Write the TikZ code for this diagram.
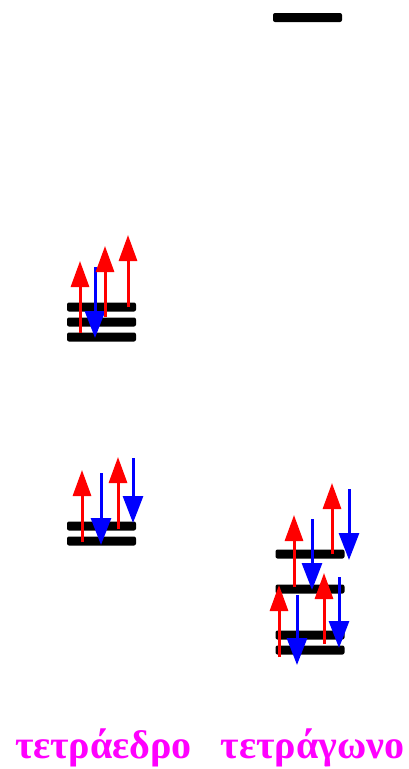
\documentclass[tikz,border=0pt]{standalone}
\usepackage{fontspec}
\setmainfont{Liberation Serif}
\usetikzlibrary{arrows.meta}
\definecolor{mag}{HTML}{FF00FF}
\tikzset{
  level/.style={draw=none,fill=black,rounded corners=2pt,minimum width=69pt,minimum height=9pt,inner sep=0pt},
  spinup/.style={red,line width=3pt,-{Triangle[length=26pt,width=18pt]}},
  spindn/.style={blue,line width=3pt,-{Triangle[length=27pt,width=20pt]}},
  lbl/.style={text=mag,font=\bfseries\fontsize{40}{44}\selectfont,anchor=base,inner sep=0pt}
}
\begin{document}
\begin{tikzpicture}[x=1pt,y=-1pt]
\useasboundingbox (0,0) rectangle (409,769);
% levels
\node[level] (top) at (307.5,17.5) {};
\node[level] (a1) at (101.5,307) {};
\node[level] (a2) at (101.5,322) {};
\node[level] (a3) at (101.5,337) {};
\node[level] (b1) at (101.5,526) {};
\node[level] (b2) at (101.5,541) {};
\node[level] (c1) at (310,554) {};
\node[level] (c2) at (310,589) {};
\node[level] (c3) at (310,635) {};
\node[level] (c4) at (310,650) {};
% upper left group
\draw[spinup] (80,333) -- (80,261);
\draw[spindn] (95,267) -- (95,338);
\draw[spinup] (105,317) -- (105,246);
\draw[spinup] (128,307) -- (128,235);
% lower left group
\draw[spinup] (82,542) -- (82,470);
\draw[spindn] (101,473) -- (101,545);
\draw[spinup] (118,529) -- (118,457);
\draw[spindn] (133,458) -- (133,523);
% right group
\draw[spinup] (332,554) -- (332,483);
\draw[spindn] (349,489) -- (349,560);
\draw[spinup] (294,587) -- (294,515);
\draw[spindn] (312,519) -- (312,590);
\draw[spinup] (279,657) -- (279,585);
\draw[spindn] (297,595) -- (297,665);
\draw[spinup] (324,644) -- (324,573);
\draw[spindn] (339,577) -- (339,648);
% labels
\node[lbl] (t1) at (103.5,758) {τετράεδρο};
\node[lbl] (t2) at (312.5,758) {τετράγωνο};
\end{tikzpicture}
\end{document}
